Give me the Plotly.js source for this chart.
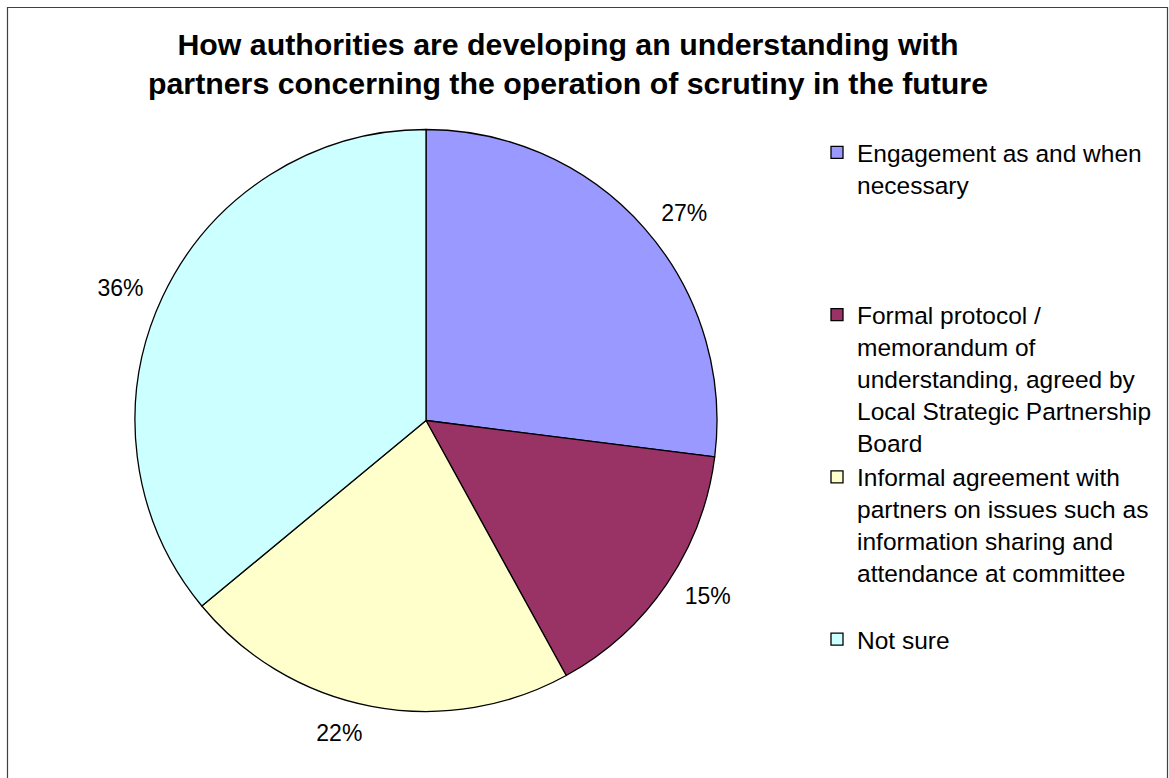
<!DOCTYPE html>
<html>
<head>
<meta charset="utf-8">
<script src="https://cdn.plot.ly/plotly-3.0.1.min.js"></script>
<style>html,body{margin:0;padding:0;background:#fff;}#chart{width:1169px;height:778px;}</style>
</head>
<body>
<div id="chart"></div>
<script>
// Data
var categories = [
  "Engagement as and when<br>necessary",
  "Formal protocol /<br>memorandum of<br>understanding, agreed by<br>Local Strategic Partnership<br>Board",
  "Informal agreement with<br>partners on issues such as<br>information sharing and<br>attendance at committee",
  "Not sure"
];
var shares = [27, 15, 22, 36];
var sliceColors = ["#9999FF", "#993366", "#FFFFCC", "#CCFFFF"];
var chartTitle = "How authorities are developing an understanding with<br>partners concerning the operation of scrutiny in the future";

// pad legend entries (except the last) to equal height slots, as in the original legend layout
var slotLines = 5;
var legendLabels = categories.map(function (c, k) {
  if (k === categories.length - 1) return c;
  var n = c.split("<br>").length;
  var s = c;
  for (var i = n; i < slotLines; i++) s += "<br>\u00a0";
  return s;
});

var W = 1169, H = 778;
var font = "Liberation Sans, Arial, sans-serif";
var cx = 426, cy = 420.5, r = 291, rLabel = 305;

var pieTrace = {
  type: "pie",
  labels: legendLabels,
  values: shares,
  sort: false,
  direction: "clockwise",
  rotation: 0,
  marker: { colors: sliceColors, line: { color: "#000000", width: 1.3 } },
  textinfo: "none",
  hoverinfo: "none",
  domain: { x: [(cx - r) / W, (cx + r) / W], y: [1 - (cy + r) / H, 1 - (cy - r) / H] }
};

// same data, invisible wedges, only used to place the percentage labels a little further out
var labelTrace = {
  type: "pie",
  labels: legendLabels,
  values: shares,
  sort: false,
  direction: "clockwise",
  rotation: 0,
  showlegend: false,
  marker: { colors: ["rgba(0,0,0,0)", "rgba(0,0,0,0)", "rgba(0,0,0,0)", "rgba(0,0,0,0)"], line: { width: 0 } },
  textposition: "outside",
  texttemplate: "%{percent:.0%}",
  textfont: { family: font, size: 23, color: "#000000" },
  hoverinfo: "none",
  domain: { x: [(cx - rLabel) / W, (cx + rLabel) / W], y: [1 - (cy + rLabel) / H, 1 - (cy - rLabel) / H] }
};

var layout = {
  width: W, height: H,
  margin: { l: 0, r: 0, t: 0, b: 0, autoexpand: false },
  paper_bgcolor: "#ffffff",
  font: { family: font, color: "#000000" },
  title: {
    text: chartTitle,
    font: { family: font, size: 30.3, color: "#000000", weight: "bold" },
    x: 568 / W, xanchor: "center", xref: "paper",
    y: 1 - 55 / H, yanchor: "middle", yref: "container"
  },
  showlegend: true,
  legend: {
    x: 817 / W, xanchor: "left",
    y: 1 - 130 / H, yanchor: "top",
    valign: "top",
    font: { family: font, size: 24.5, color: "#000000" },
    bgcolor: "rgba(0,0,0,0)",
    borderwidth: 0
  },
  shapes: [{
    type: "rect", xref: "paper", yref: "paper",
    x0: 7.5 / W, x1: 1167.5 / W, y0: -0.05, y1: 1 - 7.5 / H,
    line: { color: "#404040", width: 1.2 }, fillcolor: "rgba(0,0,0,0)", layer: "below"
  }]
};

Plotly.newPlot("chart", [pieTrace, labelTrace], layout, { displayModeBar: false, staticPlot: true });
</script>
</body>
</html>
